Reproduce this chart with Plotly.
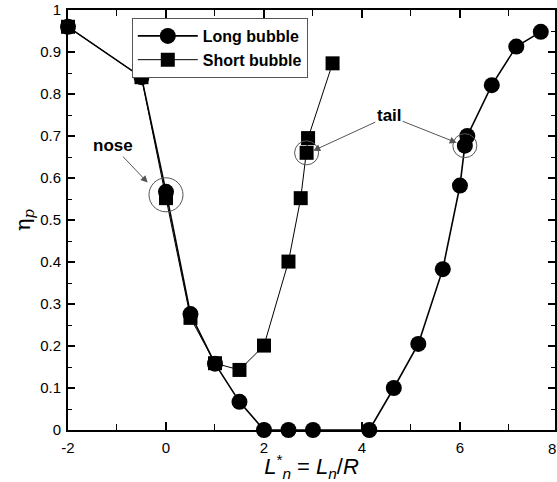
import plotly.graph_objects as go

# Data
long_x = [-2, -0.5, 0, 0.5, 1, 1.5, 2, 2.5, 3, 4.15, 4.65, 5.15, 5.65, 6.0, 6.1, 6.15, 6.65, 7.15, 7.65]
long_y = [0.96, 0.84, 0.567, 0.276, 0.158, 0.067, 0, 0, 0, 0, 0.1, 0.205, 0.383, 0.582, 0.677, 0.70, 0.821, 0.913, 0.948]
short_x = [-2, -0.5, 0, 0.5, 1, 1.5, 2, 2.5, 2.75, 2.87, 2.9, 3.4]
short_y = [0.96, 0.84, 0.552, 0.267, 0.159, 0.143, 0.201, 0.401, 0.552, 0.66, 0.695, 0.873]

x_ticks = [-2, 0, 2, 4, 6, 8]
x_ticktext = ["-2", "0", "2", "4", "6", "8"]

FONT = "Liberation Sans, Arial, sans-serif"

fig = go.Figure()
fig.add_trace(go.Scatter(
    x=long_x, y=long_y, mode="lines+markers", name="Long bubble",
    line=dict(color="black", width=1.6),
    marker=dict(symbol="circle", size=16, color="black"),
    cliponaxis=False,
))
fig.add_trace(go.Scatter(
    x=short_x, y=short_y, mode="lines+markers", name="Short bubble",
    line=dict(color="black", width=1),
    marker=dict(symbol="square", size=14, color="black"),
    cliponaxis=False,
))

# Highlight circles
for cx, cy, r in [(0, 0.56, 17), (2.87, 0.66, 12), (6.1, 0.677, 12)]:
    fig.add_shape(type="circle", xref="x", yref="y", xsizemode="pixel", ysizemode="pixel",
                  xanchor=cx, yanchor=cy, x0=-r, x1=r, y0=-r, y1=r,
                  line=dict(color="#555555", width=1))

ann_font = dict(family=FONT, size=17, color="black")
fig.add_annotation(x=-0.374, y=0.589, xref="x", yref="y", text="<b>nose</b>",
                   ax=-35, ay=-37, showarrow=True, arrowhead=2, arrowsize=1.4,
                   arrowwidth=1, arrowcolor="#555555", font=ann_font)
fig.add_annotation(x=3.006, y=0.665, xref="x", yref="y", text="<b>tail</b>",
                   ax=76, ay=-35, showarrow=True, arrowhead=2, arrowsize=1.4,
                   arrowwidth=1, arrowcolor="#555555", font=ann_font)
fig.add_annotation(x=5.933, y=0.684, xref="x", yref="y", text="<b>tail</b>",
                   ax=-68, ay=-27, showarrow=True, arrowhead=2, arrowsize=1.4,
                   arrowwidth=1, arrowcolor="#555555",
                   font=dict(family=FONT, size=17, color="rgba(0,0,0,0)"))

# partially visible "8" tick label at the right edge
fig.add_annotation(x=1 + 3 / 489, y=0, xref="paper", yref="paper", yshift=-8,
                   text="8", showarrow=False, yanchor="top",
                   font=dict(family=FONT, size=15, color="black"))

fig.update_layout(
    width=557, height=482,
    margin=dict(l=68, r=0, t=10, b=52),
    paper_bgcolor="white", plot_bgcolor="white",
    font=dict(family=FONT, size=15, color="black"),
    showlegend=True,
    legend=dict(x=0.131, y=0.981, xanchor="left", yanchor="top",
                bgcolor="white", bordercolor="#555555", borderwidth=1,
                font=dict(family=FONT, size=16, color="black", weight="bold"),
                itemwidth=60, tracegroupgap=0),
    xaxis=dict(
        range=[-2, 7.94], tickmode="array", tickvals=x_ticks, ticktext=x_ticktext,
        ticks="inside", ticklen=8, tickwidth=1.5, tickcolor="black",
        showline=True, linecolor="black", linewidth=2, mirror="allticks",
        showgrid=False, zeroline=False, ticklabelstandoff=3,
        minor=dict(dtick=1, ticks="inside", ticklen=6, tickwidth=1, tickcolor="black", showgrid=False),
        tickfont=dict(family=FONT, size=15),
        title=dict(text="<i>L</i><sup>*</sup><sub><i>n</i></sub> = <i>L<sub>n</sub></i>/<i>R</i>",
                   font=dict(family=FONT, size=22), standoff=0),
    ),
    yaxis=dict(
        range=[0, 1], dtick=0.1,
        ticks="inside", ticklen=7, tickwidth=1.5, tickcolor="black",
        showline=True, linecolor="black", linewidth=2, mirror="allticks",
        showgrid=False, zeroline=False, ticklabelstandoff=2,
        minor=dict(dtick=0.05, ticks="inside", ticklen=4, tickwidth=1, tickcolor="black", showgrid=False),
        tickfont=dict(family=FONT, size=15),
        title=dict(text="η<sub><i>p</i></sub>", font=dict(family="DejaVu Serif, serif", size=21), standoff=4),
    ),
)

fig.write_html("out.html")
